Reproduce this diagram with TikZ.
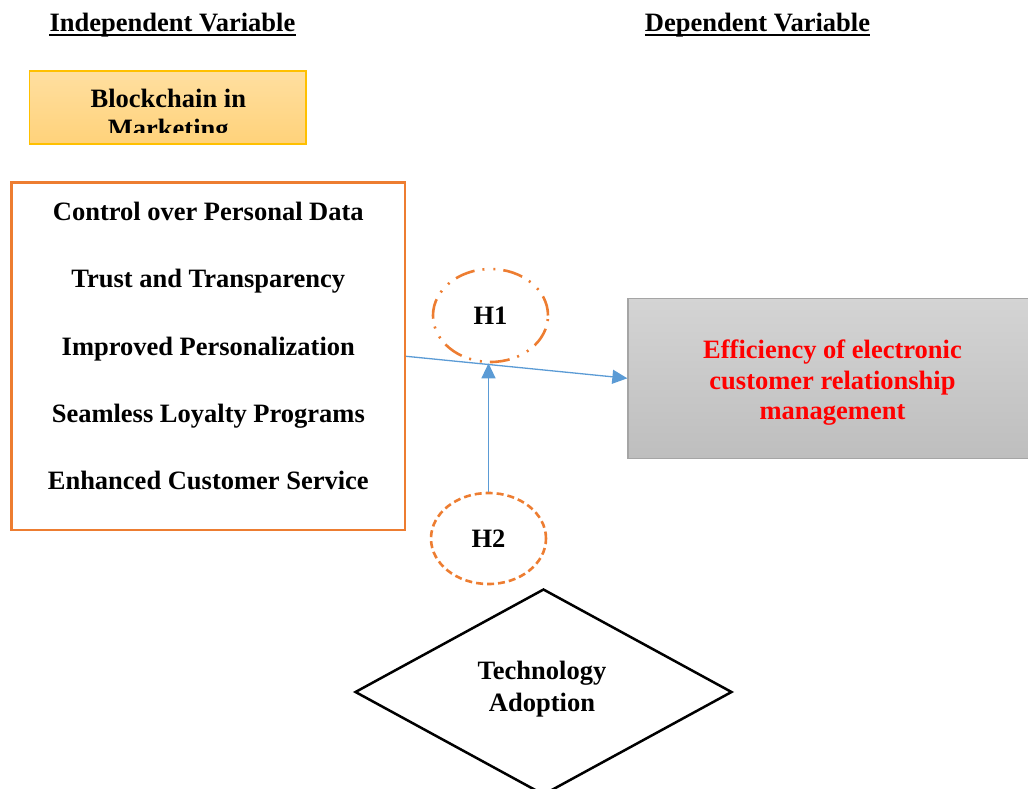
\documentclass[tikz,border=0pt]{standalone}
\usepackage{fontspec}
\setmainfont{Liberation Serif}
\usetikzlibrary{arrows.meta,shapes.geometric}
\definecolor{orangeA}{HTML}{ED7D31}
\definecolor{blueA}{HTML}{5B9BD5}
\definecolor{goldA}{HTML}{FFC000}
\definecolor{bcTop}{HTML}{FFDFA0}
\definecolor{bcBot}{HTML}{FFD27A}
\definecolor{greyTop}{HTML}{D4D4D4}
\definecolor{greyBot}{HTML}{BEBEBE}
\definecolor{greyLine}{HTML}{A5A5A5}
\definecolor{redA}{HTML}{FF0000}
\begin{document}
\begin{tikzpicture}[x=1pt,y=-1pt,
  txt/.style={font=\fontsize{26.5}{30.5}\selectfont\bfseries, inner sep=0pt, align=center},
  conn/.style={draw=blueA, line width=1.3pt, -{Triangle[length=15pt,width=14pt]}},
  hyp/.style={ellipse, draw=orangeA, line width=2.6pt, inner sep=0pt, font=\fontsize{26.5}{30.5}\selectfont\bfseries},
  uline/.style={line width=2.4pt}
]
\useasboundingbox (0,0) rectangle (1028,789);
\clip (0,0) rectangle (1028,789);
% headers
\node[txt, anchor=base] (indep) at (172.5,31.5) {Independent Variable};
\draw[uline] ([yshift=-3.5pt]indep.base west) -- ([yshift=-3.5pt]indep.base east);
\node[txt, anchor=base] (depv) at (757.5,31.5) {Dependent Variable};
\draw[uline] ([yshift=-3.5pt]depv.base west) -- ([yshift=-3.5pt]depv.base east);
% blockchain box
\node[draw=goldA, line width=1.3pt, top color=bcTop, bottom color=bcBot,
      minimum width=276.7pt, minimum height=73pt, inner sep=0pt] (bc) at (167.7,107.5) {};
\begin{scope}
  \clip (31,72.5) rectangle (304.5,132.7);
  \node[txt, anchor=base] (bc1) at (168.3,107.5) {Blockchain in};
  \node[txt, anchor=base] (bc2) at (168.3,138) {Marketing};
\end{scope}
% independent variables box
\node[draw=orangeA, line width=2.5pt, minimum width=393.3pt, minimum height=347.3pt, inner sep=0pt] (ind) at (208.3,356.3) {};
\node[txt, anchor=base] (i1) at (208.3,220.5) {Control over Personal Data};
\node[txt, anchor=base] (i2) at (208.3,287.8) {Trust and Transparency};
\node[txt, anchor=base] (i3) at (208.3,355.1) {Improved Personalization};
\node[txt, anchor=base] (i4) at (208.3,422.4) {Seamless Loyalty Programs};
\node[txt, anchor=base] (i5) at (208.3,489.7) {Enhanced Customer Service};
% dependent box
\node[draw=greyLine, line width=1.3pt, top color=greyTop, bottom color=greyBot,
      minimum width=408pt, minimum height=160pt, inner sep=0pt] (dep) at (832,378.3) {};
\node[txt, text=redA] (deptext) at (832.5,383) {Efficiency of electronic\\customer relationship\\management};
% hypotheses
\node[hyp, minimum width=115pt, minimum height=93pt,
      dash pattern=on 20pt off 8pt on 2pt off 9pt on 2pt off 8pt] (h1) at (490.5,315.5) {H1};
\node[hyp, minimum width=115pt, minimum height=91pt,
      dash pattern=on 7pt off 4pt] (h2) at (488.5,538.5) {H2};
% technology adoption
\node[diamond, draw=black, line width=2.5pt, minimum width=377pt, minimum height=206pt, inner sep=0pt] (tech) at (543.5,692) {};
\node[txt] (techtext) at (542,689) {Technology\\[1.1pt]Adoption};
% connectors
\draw[conn] (ind.east) -- (dep.west);
\draw[conn] (h2.north) -- (h2.north |- h1.south);
\end{tikzpicture}
\end{document}
